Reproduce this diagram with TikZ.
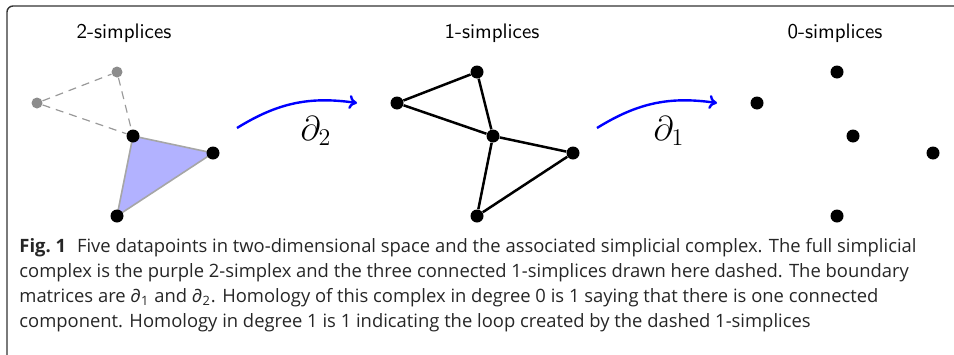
\documentclass[tikz,border=0pt]{standalone}
\usepackage{fontspec}
\newfontfamily\capfont{Open Sans}
\usetikzlibrary{backgrounds,arrows.meta}
\begin{document}
\begin{tikzpicture}[x=0.5pt,y=-0.5pt,
  dot/.style={circle,fill=black,inner sep=0pt,minimum size=6.5pt},
  gdot/.style={circle,fill=black!45,inner sep=0pt,minimum size=5.5pt},
  edge/.style={line width=1.25pt,black},
  gedge/.style={line width=0.6pt,black!40,dash pattern=on 4pt off 3pt},
  bd/.style={blue,line width=1.2pt,-{To[length=4pt,width=7pt]}},
  title/.style={font=\sffamily\fontsize{10.5}{12}\selectfont,anchor=base},
  dlab/.style={font=\fontsize{17}{20}\selectfont},
  captext/.style={font=\capfont\fontsize{9.2}{12.5}\selectfont,anchor=base west,text=black!85,inner sep=0pt}]
\useasboundingbox (0,0) rectangle (954,354);
\draw[black!80,line width=0.7pt,rounded corners=3pt] (7,355) -- (7,6) -- (960,6);
% titles
\node[title] (t2) at (124,38) {2-simplices};
\node[title] (t1) at (492,38) {1-simplices};
\node[title] (t0) at (835,38) {0-simplices};
% left panel
\node[gdot] (la) at (117,72) {};
\node[gdot] (lb) at (37,103) {};
\node[dot] (lc) at (133,136) {};
\node[dot] (ld) at (213,153) {};
\node[dot] (le) at (117,216) {};
\begin{scope}[on background layer]
\fill[blue!30,draw=black!35,line width=0.8pt] (lc.center) -- (ld.center) -- (le.center) -- cycle;
\end{scope}
\draw[gedge] (lb) -- (la);
\draw[gedge] (la) -- (lc);
\draw[gedge] (lb) -- (lc);
% middle panel
\node[dot] (ma) at (477,72) {};
\node[dot] (mb) at (397,103) {};
\node[dot] (mc) at (493,136) {};
\node[dot] (md) at (573,153) {};
\node[dot] (me) at (477,216) {};
\draw[edge] (mb) -- (ma);
\draw[edge] (ma) -- (mc);
\draw[edge] (mb) -- (mc);
\draw[edge] (mc) -- (md);
\draw[edge] (md) -- (me);
\draw[edge] (mc) -- (me);
% right panel
\node[dot] (ra) at (837,72) {};
\node[dot] (rb) at (757,103) {};
\node[dot] (rc) at (853,136) {};
\node[dot] (rd) at (933,153) {};
\node[dot] (re) at (837,216) {};
% arrows
\coordinate (a2s) at (237,128);
\coordinate (a2e) at (357,103);
\coordinate (a1s) at (597,128);
\coordinate (a1e) at (717,103);
\draw[bd] (a2s) to[bend left=20] (a2e);
\draw[bd] (a1s) to[bend left=20] (a1e);
\node[dlab] (p2) at (316,131) {$\partial_2$};
\node[dlab] (p1) at (669,131) {$\partial_1$};
% caption
\node[captext] (c1) at (19,252) {\textbf{Fig.~1}\hspace{0.6em}Five datapoints in two-dimensional space and the associated simplicial complex. The full simplicial};
\node[captext] (c2) at (19,277) {complex is the purple 2-simplex and the three connected 1-simplices drawn here dashed. The boundary};
\node[captext] (c3) at (19,302) {matrices are ∂\textsubscript{1} and ∂\textsubscript{2}. Homology of this complex in degree 0 is 1 saying that there is one connected};
\node[captext] (c4) at (19,327) {component. Homology in degree 1 is 1 indicating the loop created by the dashed 1-simplices};
\end{tikzpicture}
\end{document}
